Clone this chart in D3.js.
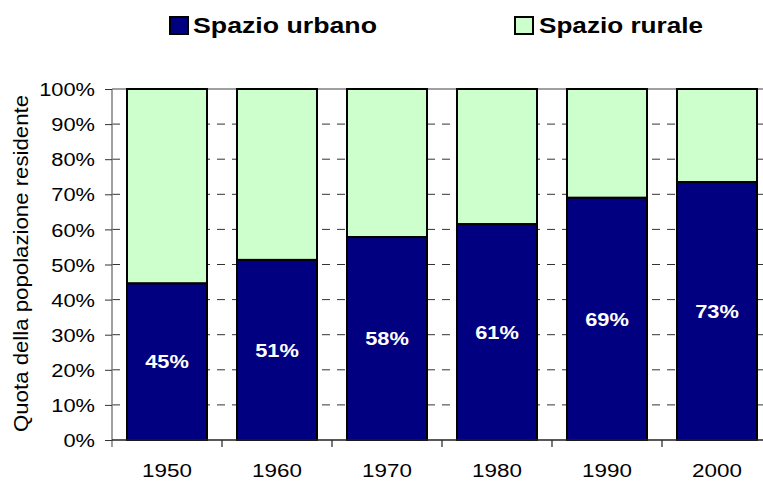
<!DOCTYPE html>
<html>
<head>
<meta charset="utf-8">
<script src="https://cdn.jsdelivr.net/npm/d3@7"></script>
<style>
  body { margin: 0; background: #fff; }
  text { font-family: "Liberation Sans", Arial, sans-serif; }
</style>
</head>
<body>
<div id="chart"></div>
<script>
const years = ["1950", "1960", "1970", "1980", "1990", "2000"];
const urbano = [0.446, 0.513, 0.578, 0.615, 0.69, 0.735];
const urbanoLabels = ["45%", "51%", "58%", "61%", "69%", "73%"];
const yTicks = [0, 0.1, 0.2, 0.3, 0.4, 0.5, 0.6, 0.7, 0.8, 0.9, 1];
const seriesNames = ["Spazio urbano", "Spazio rurale"];

const width = 763, height = 482;
const margin = { top: 89, right: -9, bottom: 42, left: 112 };
const stretch = 1.18; // text in the original looks horizontally widened

const svg = d3.select("#chart").append("svg")
  .attr("width", width).attr("height", height);

const x = d3.scaleBand().domain(years)
  .range([margin.left, width - margin.right])
  .paddingInner(0.2727).paddingOuter(0.1364);
const y = d3.scaleLinear().domain([0, 1]).range([height - margin.bottom, margin.top]);
const color = d3.scaleOrdinal().domain(seriesNames).range(["#000080", "#CCFFCC"]);

// gridlines
svg.append("g").selectAll("line")
  .data(yTicks.filter(d => d > 0 && d < 1))
  .join("line")
  .attr("x1", margin.left).attr("x2", width - margin.right)
  .attr("y1", d => y(d)).attr("y2", d => y(d))
  .attr("stroke", "#333").attr("stroke-dasharray", "8,7");

// top border of the plot
svg.append("line")
  .attr("x1", margin.left).attr("x2", width - margin.right)
  .attr("y1", y(1)).attr("y2", y(1))
  .attr("stroke", "#808080").attr("stroke-width", 1.5);

// bars
const stack = years.map((yr, i) => ({ year: yr, u: urbano[i] }));
const bars = svg.append("g");
bars.selectAll("rect.rur").data(stack).join("rect")
  .attr("x", d => x(d.year)).attr("width", x.bandwidth())
  .attr("y", y(1)).attr("height", d => y(d.u) - y(1))
  .attr("fill", color(seriesNames[1])).attr("stroke", "#000").attr("stroke-width", 2);
bars.selectAll("rect.urb").data(stack).join("rect")
  .attr("x", d => x(d.year)).attr("width", x.bandwidth())
  .attr("y", d => y(d.u)).attr("height", d => y(0) - y(d.u))
  .attr("fill", color(seriesNames[0])).attr("stroke", "#000").attr("stroke-width", 2);

// labels inside urban bars
svg.append("g").selectAll("text").data(stack).join("text")
  .attr("transform", d => `translate(${x(d.year) + x.bandwidth() / 2},${(y(d.u) + y(0)) / 2}) scale(${stretch},1)`)
  .attr("text-anchor", "middle").attr("dy", "0.36em")
  .attr("fill", "#fff").attr("font-weight", "bold").attr("font-size", 18.5)
  .text((d, i) => urbanoLabels[i]);

// y axis
const yAxis = svg.append("g")
  .attr("transform", `translate(${margin.left},0)`)
  .call(d3.axisLeft(y).tickValues(yTicks).tickSize(7).tickFormat(d3.format(".0%")));
yAxis.select(".domain").attr("stroke", "#808080").attr("stroke-width", 1.5)
  .attr("d", `M0,${y(1)}V${y(0) + 7}`);
yAxis.selectAll(".tick line").attr("stroke", "#333");
yAxis.selectAll(".tick text")
  .attr("x", null).attr("dy", "0.36em")
  .attr("transform", `translate(-17,0) scale(${stretch},1)`)
  .attr("font-size", 18.5).attr("fill", "#000")
  .style("font-family", "'Liberation Sans', Arial, sans-serif");

// x axis line and ticks at category boundaries
svg.append("line")
  .attr("x1", margin.left).attr("x2", width - margin.right)
  .attr("y1", y(0)).attr("y2", y(0))
  .attr("stroke", "#222").attr("stroke-width", 1.5);
const step = x.step();
svg.append("g").selectAll("line")
  .data(years.slice(1))
  .join("line")
  .attr("x1", d => x(d) - x.paddingInner() * step / 2)
  .attr("x2", d => x(d) - x.paddingInner() * step / 2)
  .attr("y1", y(0)).attr("y2", y(0) + 7)
  .attr("stroke", "#222").attr("stroke-width", 1.2);

svg.append("g").selectAll("text").data(years).join("text")
  .attr("transform", d => `translate(${x(d) + x.bandwidth() / 2},477) scale(${stretch},1)`)
  .attr("text-anchor", "middle").attr("font-size", 19)
  .text(d => d);

// y axis title
svg.append("text")
  .attr("transform", `translate(28,${(y(0) + y(1)) / 2 - 1}) rotate(-90)`)
  .attr("text-anchor", "middle").attr("font-size", 19.5)
  .attr("textLength", 337).attr("lengthAdjust", "spacingAndGlyphs")
  .text("Quota della popolazione residente");

// legend
const legendPos = [
  { box: 170, text: 193, len: 184 },
  { box: 515, text: 539, len: 164 }
];
const legend = svg.append("g").selectAll("g").data(seriesNames).join("g");
legend.append("rect")
  .attr("x", (d, i) => legendPos[i].box).attr("y", 17)
  .attr("width", 18).attr("height", 17)
  .attr("fill", d => color(d)).attr("stroke", "#000").attr("stroke-width", 2);
legend.append("text")
  .attr("x", (d, i) => legendPos[i].text).attr("y", 33)
  .attr("font-size", 22).attr("font-weight", "bold")
  .attr("textLength", (d, i) => legendPos[i].len).attr("lengthAdjust", "spacingAndGlyphs")
  .text(d => d);
</script>
</body>
</html>
